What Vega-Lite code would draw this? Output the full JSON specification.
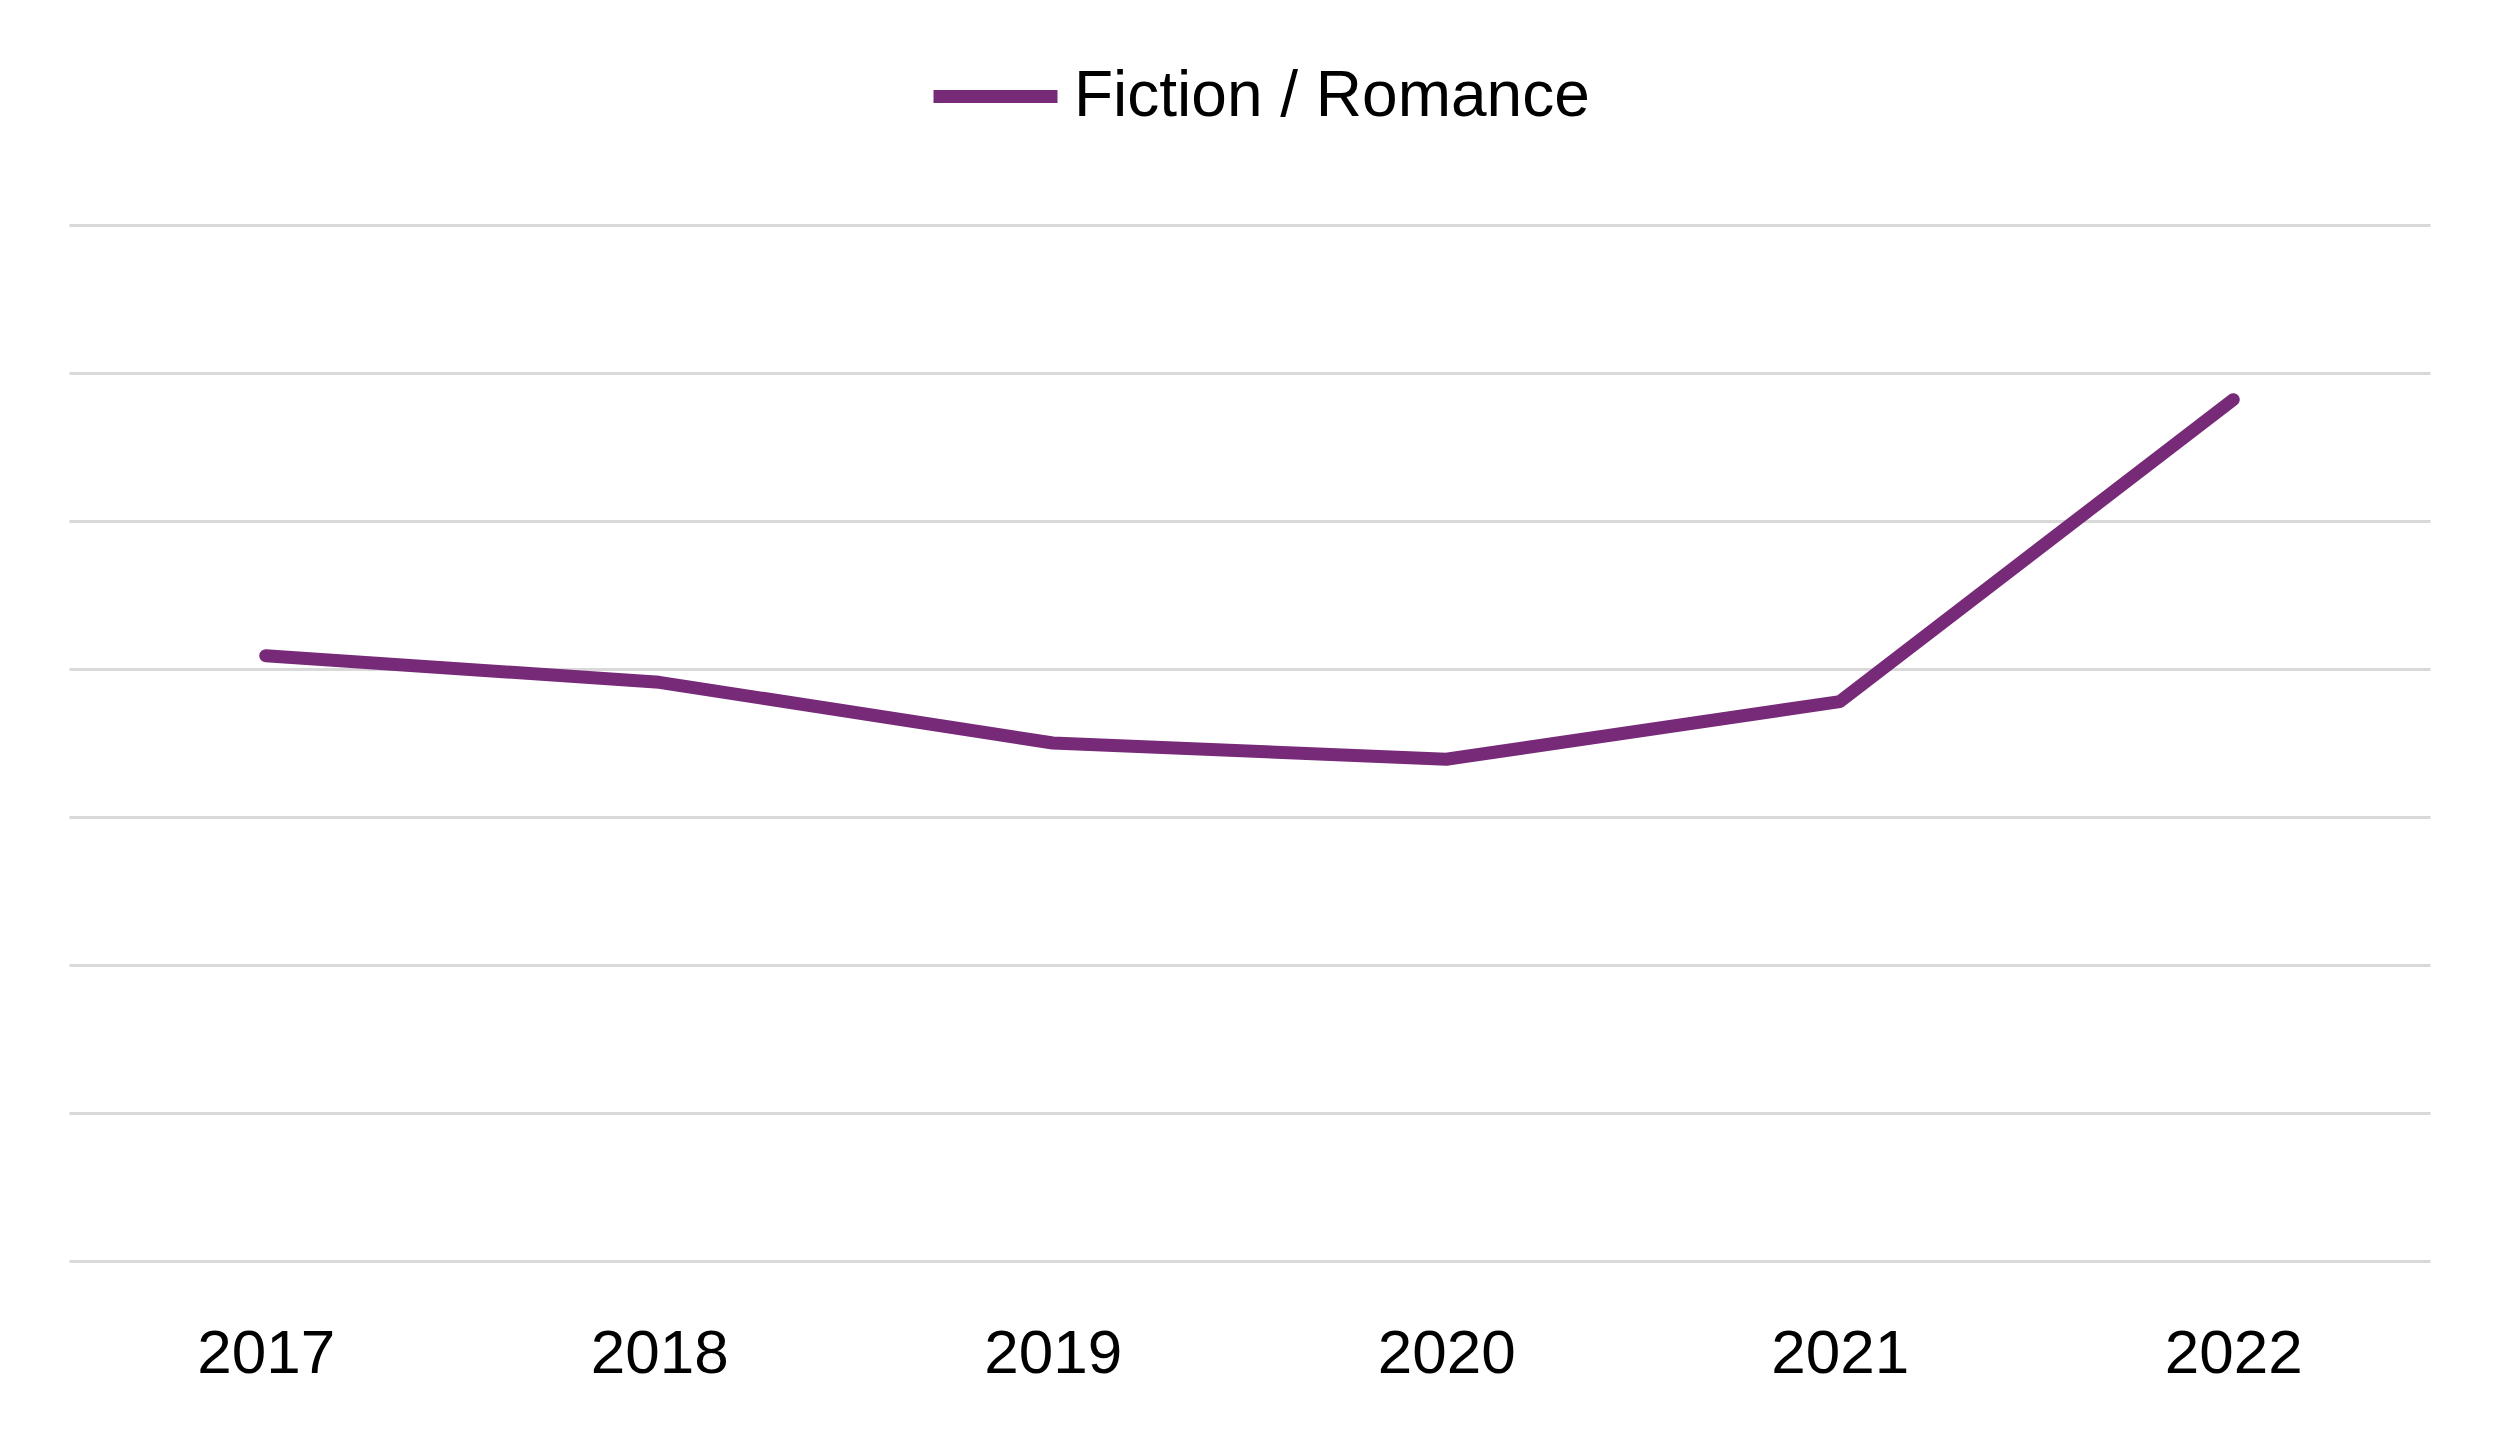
{
  "$schema": "https://vega.github.io/schema/vega-lite/v6.json",
  "width": 2361,
  "height": 1036,
  "autosize": {"type": "none"},
  "padding": {"left": 69, "top": 225, "right": 70, "bottom": 170},
  "background": "white",
  "data": {
    "values": [
      {"Year": "2017", "Series": "Fiction / Romance", "Value": 4.09},
      {"Year": "2018", "Series": "Fiction / Romance", "Value": 3.91},
      {"Year": "2019", "Series": "Fiction / Romance", "Value": 3.5},
      {"Year": "2020", "Series": "Fiction / Romance", "Value": 3.39},
      {"Year": "2021", "Series": "Fiction / Romance", "Value": 3.78},
      {"Year": "2022", "Series": "Fiction / Romance", "Value": 5.82}
    ]
  },
  "mark": {"type": "line", "strokeWidth": 13, "strokeCap": "round", "strokeJoin": "round"},
  "encoding": {
    "x": {
      "field": "Year",
      "type": "ordinal",
      "scale": {"type": "point", "padding": 0.5},
      "axis": {
        "title": null,
        "labelAngle": 0,
        "domain": false,
        "ticks": false,
        "grid": false,
        "labelFont": "Liberation Sans",
        "labelFontSize": 62,
        "labelColor": "#000000",
        "labelPadding": 62
      }
    },
    "y": {
      "field": "Value",
      "type": "quantitative",
      "scale": {"domain": [0, 7], "nice": false, "zero": true},
      "axis": {
        "title": null,
        "values": [0, 1, 2, 3, 4, 5, 6, 7],
        "labels": false,
        "ticks": false,
        "domain": false,
        "grid": true,
        "gridColor": "#d9d9d9",
        "gridWidth": 3
      }
    },
    "color": {
      "field": "Series",
      "type": "nominal",
      "scale": {"range": ["#772a77"]},
      "legend": {
        "title": null,
        "orient": "none",
        "legendX": 858,
        "legendY": -197,
        "symbolType": "stroke",
        "symbolSize": 15376,
        "symbolStrokeWidth": 13,
        "labelFont": "Liberation Sans",
        "labelFontSize": 64,
        "labelColor": "#000000",
        "labelOffset": 10,
        "labelLimit": 1000
      }
    }
  },
  "config": {"view": {"stroke": null}}
}
